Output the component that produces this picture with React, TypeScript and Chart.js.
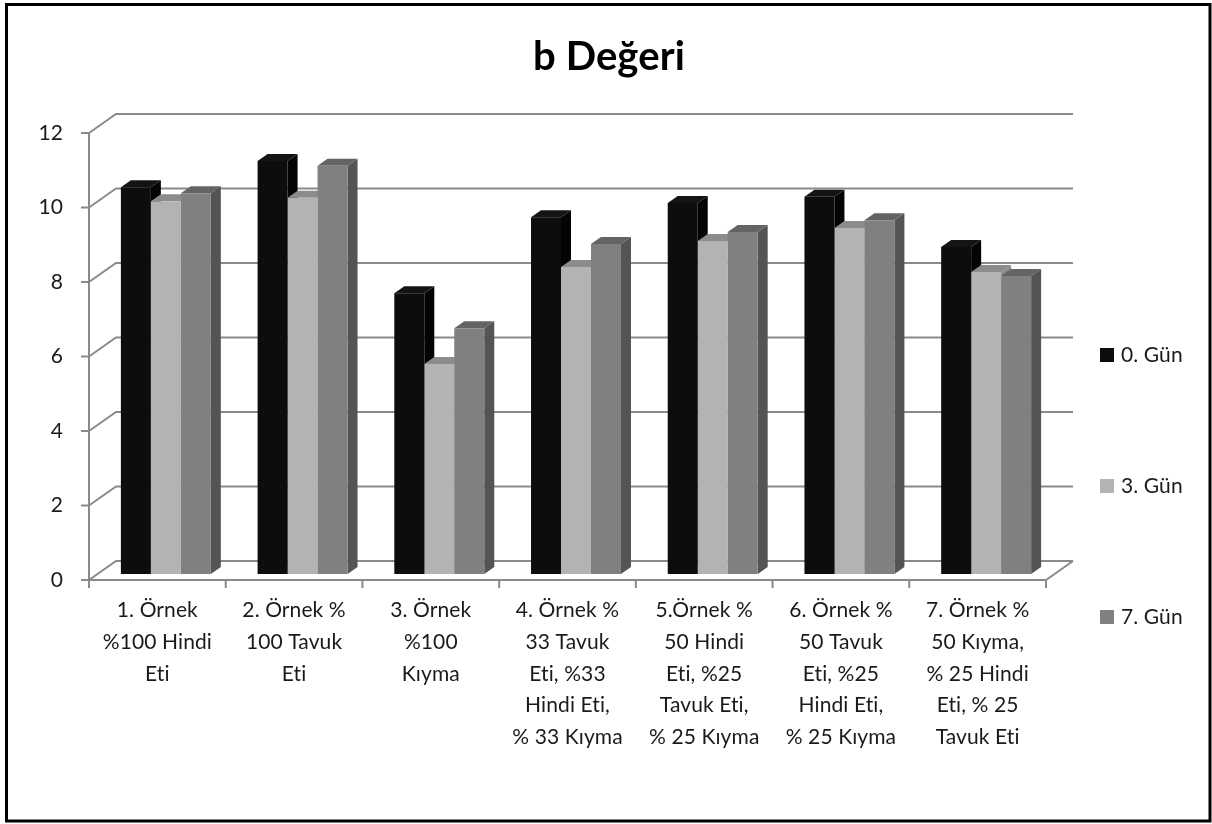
import { useEffect, useRef } from "react";
import { Chart, registerables } from "chart.js";

Chart.register(...registerables);

// Sample groups (multi-line category labels)
const categories: string[][] = [
  ["1. Örnek", "%100 Hindi", "Eti"],
  ["2. Örnek %", "100 Tavuk", "Eti"],
  ["3. Örnek", "%100", "Kıyma"],
  ["4. Örnek %", "33 Tavuk", "Eti, %33", "Hindi Eti,", "% 33 Kıyma"],
  ["5.Örnek %", "50 Hindi", "Eti, %25", "Tavuk Eti,", "% 25 Kıyma"],
  ["6. Örnek %", "50 Tavuk", "Eti, %25", "Hindi Eti,", "% 25 Kıyma"],
  ["7. Örnek %", "50 Kıyma,", "% 25 Hindi", "Eti, % 25", "Tavuk Eti"],
];

const seriesNames = ["0. Gün", "3. Gün", "7. Gün"];
const day0 = [10.38, 11.09, 7.54, 9.58, 9.96, 10.13, 8.78];
const day3 = [10.01, 10.1, 5.64, 8.24, 8.94, 9.29, 8.11];
const day7 = [10.22, 10.96, 6.6, 8.86, 9.18, 9.5, 8.0];
const yTickValues = [0, 2, 4, 6, 8, 10, 12];

const titleText = "b Değeri";

// Face colours per series: front, top, side
const frontColors = ["#0d0d0d", "#b3b3b3", "#808080"];
const topColors = ["#141414", "#8c8c8c", "#646464"];
const sideColors = ["#040404", "#8a8a8a", "#545454"];

const FONT = "Lato, 'Open Sans', sans-serif";
const W = 1212;
const H = 824;

// Plot plane where the bars stand, in canvas pixels
const PLOT_LEFT = 97.5;
const PLOT_RIGHT = 1054.5;
const PLOT_TOP = 127;
const PLOT_BOTTOM = 574;
const X_AXIS_H = 200;

// Perspective offsets: bar plane -> front plane, bar plane -> back wall, bar depth
const FRONT = { dx: -8.5, dy: 6 };
const BACK = { dx: 18.5, dy: -13 };
const BAR_DEPTH = { dx: 10, dy: -7 };
const GRID = "#8a8a8a";

const frame3d = {
  id: "frame3d",
  beforeDraw(chart: any) {
    const ctx = chart.ctx;
    // keep glyph pairs such as "ti" as separate letters
    ctx.letterSpacing = "0.1px";
    ctx.textRendering = "optimizeSpeed";
    ctx.save();
    ctx.fillStyle = "#ffffff";
    ctx.fillRect(0, 0, W, H);
    ctx.restore();
  },
  beforeDatasetsDraw(chart: any) {
    const ctx = chart.ctx;
    const y = chart.scales.y;
    const area = chart.chartArea;
    const fl = area.left + FRONT.dx;
    const fr = area.right + FRONT.dx;
    const bl = area.left + BACK.dx;
    const br = area.right + BACK.dx;
    ctx.save();
    ctx.strokeStyle = GRID;
    ctx.lineWidth = 2;
    ctx.lineCap = "butt";
    // back wall gridlines and left wall diagonals
    for (const v of yTickValues) {
      const py = y.getPixelForValue(v);
      const fy = py + FRONT.dy;
      const by = py + BACK.dy;
      ctx.beginPath();
      ctx.moveTo(fl, fy);
      ctx.lineTo(bl, by);
      ctx.lineTo(br, by);
      ctx.stroke();
      // tick mark on the front axis
      ctx.beginPath();
      ctx.moveTo(fl - 8, fy);
      ctx.lineTo(fl, fy);
      ctx.stroke();
    }
    const f0 = y.getPixelForValue(0) + FRONT.dy;
    const f12 = y.getPixelForValue(12) + FRONT.dy;
    const b0 = y.getPixelForValue(0) + BACK.dy;
    // front vertical axis
    ctx.beginPath();
    ctx.moveTo(fl, f12);
    ctx.lineTo(fl, f0 + 8);
    ctx.stroke();
    // floor: front edge and right diagonal
    ctx.beginPath();
    ctx.moveTo(fl, f0);
    ctx.lineTo(fr, f0);
    ctx.lineTo(br, b0);
    ctx.stroke();
    // category ticks along the front edge
    const n = categories.length;
    for (let k = 0; k <= n; k++) {
      const x = fl + ((fr - fl) * k) / n;
      ctx.beginPath();
      ctx.moveTo(x, f0);
      ctx.lineTo(x, f0 + 8);
      ctx.stroke();
    }

    // side and top faces of the bars
    for (let j = 0; j < n; j++) {
      for (let i = 0; i < chart.data.datasets.length; i++) {
        const el = chart.getDatasetMeta(i).data[j];
        if (!el) continue;
        const p = el.getProps(["x", "y", "base", "width"], true);
        const l = p.x - p.width / 2;
        const r = p.x + p.width / 2;
        ctx.fillStyle = sideColors[i];
        ctx.beginPath();
        ctx.moveTo(r, p.y);
        ctx.lineTo(r + BAR_DEPTH.dx, p.y + BAR_DEPTH.dy);
        ctx.lineTo(r + BAR_DEPTH.dx, p.base + BAR_DEPTH.dy);
        ctx.lineTo(r, p.base);
        ctx.closePath();
        ctx.fill();
        ctx.fillStyle = topColors[i];
        ctx.beginPath();
        ctx.moveTo(l, p.y);
        ctx.lineTo(r, p.y);
        ctx.lineTo(r + BAR_DEPTH.dx, p.y + BAR_DEPTH.dy);
        ctx.lineTo(l + BAR_DEPTH.dx, p.y + BAR_DEPTH.dy);
        ctx.closePath();
        ctx.fill();
      }
    }
    ctx.restore();
  },
  afterDraw(chart: any) {
    const ctx = chart.ctx;
    ctx.save();
    // title
    ctx.fillStyle = "#000";
    ctx.font = `bold 40px ${FONT}`;
    ctx.textAlign = "center";
    ctx.textBaseline = "alphabetic";
    ctx.fillText(titleText, 609, 70);
    // legend
    const legendY = [355, 486, 617];
    ctx.font = `21px ${FONT}`;
    ctx.textAlign = "left";
    ctx.textBaseline = "middle";
    seriesNames.forEach((name, i) => {
      ctx.fillStyle = frontColors[i];
      ctx.fillRect(1100, legendY[i] - 7, 14, 14);
      ctx.fillStyle = "#1a1a1a";
      ctx.fillText(name, 1121, legendY[i]);
    });
    // outer frame
    ctx.strokeStyle = "#000";
    ctx.lineWidth = 3;
    ctx.strokeRect(6.5, 4.5, 1203.5, 816.5);
    ctx.restore();
  },
};

export default function App() {
  const ref = useRef<HTMLCanvasElement | null>(null);

  useEffect(() => {
    if (!ref.current) return;
    const series = [day0, day3, day7];
    const chart = new Chart(ref.current, {
      type: "bar",
      data: {
        labels: categories,
        datasets: series.map((values, i) => ({
          label: seriesNames[i],
          data: values,
          backgroundColor: frontColors[i],
          borderWidth: 0,
          categoryPercentage: 0.658,
          barPercentage: 1,
        })),
      },
      options: {
        responsive: false,
        animation: false,
        devicePixelRatio: 1,
        layout: {
          padding: {
            top: PLOT_TOP,
            left: 0,
            right: W - PLOT_RIGHT,
            bottom: H - PLOT_BOTTOM - X_AXIS_H,
          },
        },
        plugins: {
          legend: { display: false },
          title: { display: false },
          tooltip: { enabled: false },
        },
        scales: {
          x: {
            grid: { display: false, drawTicks: false },
            border: { display: false },
            ticks: {
              autoSkip: false,
              maxRotation: 0,
              minRotation: 0,
              padding: 20,
              labelOffset: FRONT.dx,
              color: "#1a1a1a",
              font: { family: FONT, size: 21, lineHeight: 1.52 },
            },
            afterFit: (s: any) => {
              s.height = X_AXIS_H;
            },
          },
          y: {
            min: 0,
            max: 12,
            grid: { display: false, drawTicks: false },
            border: { display: false },
            ticks: {
              stepSize: 2,
              padding: PLOT_LEFT - 63,
              labelOffset: FRONT.dy,
              color: "#1a1a1a",
              font: { family: FONT, size: 21 },
            },
            afterFit: (s: any) => {
              s.width = PLOT_LEFT;
            },
          },
        },
      },
      plugins: [frame3d],
    });
    return () => chart.destroy();
  }, []);

  return (
    <div style={{ position: "fixed", left: 0, top: 0, width: W, height: H, background: "#fff" }}>
      <canvas ref={ref} width={W} height={H} style={{ display: "block", width: W, height: H }} />
    </div>
  );
}
